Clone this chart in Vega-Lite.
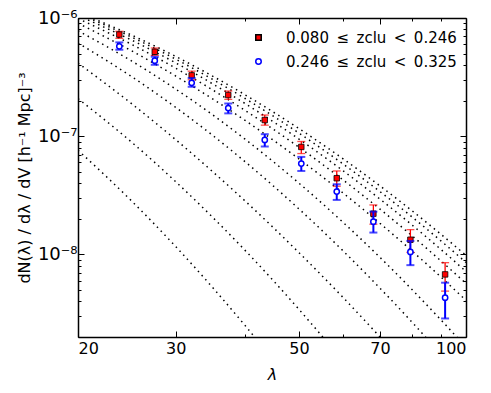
{
  "$schema": "https://vega.github.io/schema/vega-lite/v6.json",
  "width": 388,
  "height": 319,
  "autosize": {"type": "none"},
  "padding": {"left": 78, "top": 18, "right": 25, "bottom": 56},
  "background": "white",
  "config": {
    "view": {"stroke": null},
    "font": "DejaVu Sans",
    "axis": {
      "grid": false,
      "domainColor": "black",
      "domainWidth": 1.5,
      "tickColor": "black",
      "tickWidth": 1,
      "labelColor": "black",
      "titleColor": "black",
      "labelFont": "DejaVu Sans",
      "titleFont": "DejaVu Sans",
      "labelFontSize": 16,
      "titleFontSize": 16,
      "titleFontWeight": "normal"
    },
    "legend": {
      "orient": "none",
      "legendX": 173,
      "legendY": 12,
      "padding": 0,
      "labelFont": "DejaVu Sans",
      "labelFontSize": 15,
      "labelColor": "black",
      "labelLimit": 0,
      "labelOffset": 20,
      "rowPadding": 8,
      "symbolSize": 30,
      "symbolStrokeWidth": 1.5
    }
  },
  "datasets": {
    "pts": [
      {"set": "0.080\u2002≤\u2002zclu\u2002<\u20020.246", "lam": 23.74, "val": 7.25e-7, "lo": 6.73e-7, "hi": 7.71e-7},
      {"set": "0.080\u2002≤\u2002zclu\u2002<\u20020.246", "lam": 27.5, "val": 5.18e-7, "lo": 4.83e-7, "hi": 5.57e-7},
      {"set": "0.080\u2002≤\u2002zclu\u2002<\u20020.246", "lam": 32.05, "val": 3.27e-7, "lo": 3.00e-7, "hi": 3.55e-7},
      {"set": "0.080\u2002≤\u2002zclu\u2002<\u20020.246", "lam": 37.3, "val": 2.23e-7, "lo": 2.05e-7, "hi": 2.41e-7},
      {"set": "0.080\u2002≤\u2002zclu\u2002<\u20020.246", "lam": 43.4, "val": 1.37e-7, "lo": 1.24e-7, "hi": 1.51e-7},
      {"set": "0.080\u2002≤\u2002zclu\u2002<\u20020.246", "lam": 50.5, "val": 8.11e-8, "lo": 7.13e-8, "hi": 9.02e-8},
      {"set": "0.080\u2002≤\u2002zclu\u2002<\u20020.246", "lam": 58.5, "val": 4.41e-8, "lo": 3.77e-8, "hi": 5.08e-8},
      {"set": "0.080\u2002≤\u2002zclu\u2002<\u20020.246", "lam": 68.1, "val": 2.21e-8, "lo": 1.80e-8, "hi": 2.62e-8},
      {"set": "0.080\u2002≤\u2002zclu\u2002<\u20020.246", "lam": 79.4, "val": 1.33e-8, "lo": 1.04e-8, "hi": 1.62e-8},
      {"set": "0.080\u2002≤\u2002zclu\u2002<\u20020.246", "lam": 91.7, "val": 6.77e-9, "lo": 4.89e-9, "hi": 8.51e-9},
      {"set": "0.246\u2002≤\u2002zclu\u2002<\u20020.325", "lam": 23.74, "val": 5.76e-7, "lo": 5.39e-7, "hi": 6.22e-7},
      {"set": "0.246\u2002≤\u2002zclu\u2002<\u20020.325", "lam": 27.5, "val": 4.35e-7, "lo": 4.02e-7, "hi": 4.70e-7},
      {"set": "0.246\u2002≤\u2002zclu\u2002<\u20020.325", "lam": 32.05, "val": 2.83e-7, "lo": 2.62e-7, "hi": 3.10e-7},
      {"set": "0.246\u2002≤\u2002zclu\u2002<\u20020.325", "lam": 37.3, "val": 1.73e-7, "lo": 1.56e-7, "hi": 1.89e-7},
      {"set": "0.246\u2002≤\u2002zclu\u2002<\u20020.325", "lam": 43.4, "val": 9.30e-8, "lo": 8.18e-8, "hi": 1.04e-7},
      {"set": "0.246\u2002≤\u2002zclu\u2002<\u20020.325", "lam": 50.5, "val": 5.87e-8, "lo": 5.08e-8, "hi": 6.68e-8},
      {"set": "0.246\u2002≤\u2002zclu\u2002<\u20020.325", "lam": 58.5, "val": 3.40e-8, "lo": 2.89e-8, "hi": 3.92e-8},
      {"set": "0.246\u2002≤\u2002zclu\u2002<\u20020.325", "lam": 68.1, "val": 1.89e-8, "lo": 1.53e-8, "hi": 2.30e-8},
      {"set": "0.246\u2002≤\u2002zclu\u2002<\u20020.325", "lam": 79.4, "val": 1.05e-8, "lo": 8.11e-9, "hi": 1.30e-8},
      {"set": "0.246\u2002≤\u2002zclu\u2002<\u20020.325", "lam": 91.7, "val": 4.30e-9, "lo": 2.87e-9, "hi": 5.76e-9}
    ],
    "models": [
      {"model": "A", "lam": 20, "val": 7.61e-8}, {"model": "A", "lam": 25, "val": 2.82e-8}, {"model": "A", "lam": 30, "val": 1.164e-8}, {"model": "A", "lam": 35, "val": 5.21e-9}, {"model": "A", "lam": 40, "val": 2.50e-9}, {"model": "A", "lam": 45, "val": 1.266e-9},
      {"model": "B", "lam": 20, "val": 2.079e-7}, {"model": "B", "lam": 25, "val": 8.87e-8}, {"model": "B", "lam": 30, "val": 4.12e-8}, {"model": "B", "lam": 35, "val": 2.05e-8}, {"model": "B", "lam": 40, "val": 1.081e-8}, {"model": "B", "lam": 50, "val": 3.43e-9}, {"model": "B", "lam": 55, "val": 2.04e-9}, {"model": "B", "lam": 60, "val": 1.254e-9},
      {"model": "C", "lam": 20, "val": 4.157e-7}, {"model": "C", "lam": 25, "val": 1.878e-7}, {"model": "C", "lam": 30, "val": 9.34e-8}, {"model": "C", "lam": 35, "val": 4.99e-8}, {"model": "C", "lam": 40, "val": 2.83e-8}, {"model": "C", "lam": 50, "val": 1.036e-8}, {"model": "C", "lam": 60, "val": 4.34e-9}, {"model": "C", "lam": 70, "val": 2.00e-9}, {"model": "C", "lam": 75, "val": 1.404e-9},
      {"model": "D", "lam": 20, "val": 6.14e-7}, {"model": "D", "lam": 25, "val": 3.187e-7}, {"model": "D", "lam": 30, "val": 1.751e-7}, {"model": "D", "lam": 35, "val": 1.012e-7}, {"model": "D", "lam": 40, "val": 6.08e-8}, {"model": "D", "lam": 50, "val": 2.425e-8}, {"model": "D", "lam": 60, "val": 1.075e-8}, {"model": "D", "lam": 70, "val": 5.17e-9}, {"model": "D", "lam": 80, "val": 2.66e-9}, {"model": "D", "lam": 90, "val": 1.437e-9},
      {"model": "E", "lam": 20, "val": 7.80e-7}, {"model": "E", "lam": 25, "val": 4.32e-7}, {"model": "E", "lam": 30, "val": 2.502e-7}, {"model": "E", "lam": 35, "val": 1.51e-7}, {"model": "E", "lam": 40, "val": 9.43e-8}, {"model": "E", "lam": 50, "val": 4.01e-8}, {"model": "E", "lam": 60, "val": 1.875e-8}, {"model": "E", "lam": 70, "val": 9.43e-9}, {"model": "E", "lam": 80, "val": 5.02e-9}, {"model": "E", "lam": 90, "val": 2.81e-9}, {"model": "E", "lam": 100, "val": 1.645e-9},
      {"model": "F", "lam": 20, "val": 9.02e-7}, {"model": "F", "lam": 25, "val": 5.265e-7}, {"model": "F", "lam": 30, "val": 3.227e-7}, {"model": "F", "lam": 35, "val": 2.059e-7}, {"model": "F", "lam": 40, "val": 1.359e-7}, {"model": "F", "lam": 50, "val": 6.427e-8}, {"model": "F", "lam": 60, "val": 3.316e-8}, {"model": "F", "lam": 70, "val": 1.830e-8}, {"model": "F", "lam": 80, "val": 1.065e-8}, {"model": "F", "lam": 90, "val": 6.471e-9}, {"model": "F", "lam": 100, "val": 4.079e-9},
      {"model": "G", "lam": 20, "val": 9.90e-7}, {"model": "G", "lam": 25, "val": 5.974e-7}, {"model": "G", "lam": 30, "val": 3.760e-7}, {"model": "G", "lam": 35, "val": 2.454e-7}, {"model": "G", "lam": 40, "val": 1.652e-7}, {"model": "G", "lam": 50, "val": 8.074e-8}, {"model": "G", "lam": 60, "val": 4.279e-8}, {"model": "G", "lam": 70, "val": 2.415e-8}, {"model": "G", "lam": 80, "val": 1.433e-8}, {"model": "G", "lam": 90, "val": 8.860e-9}, {"model": "G", "lam": 100, "val": 5.675e-9},
      {"model": "H", "lam": 20, "val": 1.050e-6}, {"model": "H", "lam": 25, "val": 6.490e-7}, {"model": "H", "lam": 30, "val": 4.169e-7}, {"model": "H", "lam": 35, "val": 2.765e-7}, {"model": "H", "lam": 40, "val": 1.889e-7}, {"model": "H", "lam": 50, "val": 9.461e-8}, {"model": "H", "lam": 60, "val": 5.114e-8}, {"model": "H", "lam": 70, "val": 2.936e-8}, {"model": "H", "lam": 80, "val": 1.768e-8}, {"model": "H", "lam": 90, "val": 1.107e-8}, {"model": "H", "lam": 100, "val": 7.171e-9},
      {"model": "I", "lam": 20, "val": 1.092e-6}, {"model": "I", "lam": 25, "val": 6.880e-7}, {"model": "I", "lam": 30, "val": 4.486e-7}, {"model": "I", "lam": 35, "val": 3.016e-7}, {"model": "I", "lam": 40, "val": 2.084e-7}, {"model": "I", "lam": 50, "val": 1.063e-7}, {"model": "I", "lam": 60, "val": 5.839e-8}, {"model": "I", "lam": 70, "val": 3.396e-8}, {"model": "I", "lam": 80, "val": 2.068e-8}, {"model": "I", "lam": 90, "val": 1.308e-8}, {"model": "I", "lam": 100, "val": 8.552e-9},
      {"model": "J", "lam": 20, "val": 1.118e-6}, {"model": "J", "lam": 25, "val": 7.154e-7}, {"model": "J", "lam": 30, "val": 4.724e-7}, {"model": "J", "lam": 35, "val": 3.212e-7}, {"model": "J", "lam": 40, "val": 2.239e-7}, {"model": "J", "lam": 50, "val": 1.161e-7}, {"model": "J", "lam": 60, "val": 6.457e-8}, {"model": "J", "lam": 70, "val": 3.796e-8}, {"model": "J", "lam": 80, "val": 2.333e-8}, {"model": "J", "lam": 90, "val": 1.489e-8}, {"model": "J", "lam": 100, "val": 9.799e-9}
    ]
  },
  "layer": [
    {
      "data": {"name": "models"},
      "mark": {"type": "line", "clip": true, "color": "black", "strokeWidth": 1.5, "strokeDash": [1.5, 4], "interpolate": "monotone"},
      "encoding": {
        "x": {
          "field": "lam", "type": "quantitative",
          "scale": {"type": "log", "domain": [20, 100], "nice": false},
          "axis": {
            "orient": "bottom",
            "title": "λ",
            "titleFontStyle": "italic",
            "titlePadding": 10,
            "values": [20, 30, 40, 50, 60, 70, 80, 90, 100],
            "labelExpr": "indexof([20, 30, 50, 70, 100], datum.value) >= 0 ? format(datum.value, 'd') : ''",
            "labelPadding": 9,
            "tickSize": {"condition": {"test": "indexof([20, 30, 50, 70, 100], datum.value) >= 0", "value": -6}, "value": -3}
          }
        },
        "y": {
          "field": "val", "type": "quantitative",
          "scale": {"type": "log", "domain": [2e-9, 1e-6], "nice": false},
          "axis": {
            "orient": "left",
            "title": "dN(λ) / dλ / dV [h⁻¹ Mpc]⁻³",
            "titlePadding": 5,
            "values": [2e-9, 3e-9, 4e-9, 5e-9, 6e-9, 7e-9, 8e-9, 9e-9, 1e-8, 2e-8, 3e-8, 4e-8, 5e-8, 6e-8, 7e-8, 8e-8, 9e-8, 1e-7, 2e-7, 3e-7, 4e-7, 5e-7, 6e-7, 7e-7, 8e-7, 9e-7, 1e-6],
            "labelExpr": "datum.value === 1e-6 ? '10⁻⁶' : datum.value === 1e-7 ? '10⁻⁷' : datum.value === 1e-8 ? '10⁻⁸' : ''",
            "labelFontSize": 18,
            "labelPadding": 7,
            "tickSize": {"condition": {"test": "indexof([1e-6, 1e-7, 1e-8], datum.value) >= 0", "value": -6}, "value": -3}
          }
        },
        "detail": {"field": "model", "type": "nominal"}
      }
    },
    {
      "data": {"name": "pts"},
      "transform": [{"filter": "indexof(datum.set, '0.080') === 0"}],
      "mark": {"type": "errorbar", "color": "#ff0000", "thickness": 1.3, "size": 8, "ticks": true},
      "encoding": {
        "x": {"field": "lam", "type": "quantitative", "scale": {"type": "log", "domain": [20, 100], "nice": false}, "axis": null},
        "y": {"field": "lo", "type": "quantitative", "scale": {"type": "log", "domain": [2e-9, 1e-6], "nice": false}, "axis": null},
        "y2": {"field": "hi"}
      }
    },
    {
      "data": {"name": "pts"},
      "transform": [{"filter": "indexof(datum.set, '0.080') === 0"}],
      "mark": {"type": "point", "size": 30, "strokeWidth": 0.8, "opacity": 1},
      "encoding": {
        "x": {"field": "lam", "type": "quantitative", "scale": {"type": "log", "domain": [20, 100], "nice": false}, "axis": null},
        "y": {"field": "val", "type": "quantitative", "scale": {"type": "log", "domain": [2e-9, 1e-6], "nice": false}, "axis": null},
        "shape": {"field": "set", "type": "nominal", "scale": {"domain": ["0.080\u2002≤\u2002zclu\u2002<\u20020.246", "0.246\u2002≤\u2002zclu\u2002<\u20020.325"], "range": ["square", "circle"]}, "legend": {"title": null}},
        "fill": {"field": "set", "type": "nominal", "scale": {"domain": ["0.080\u2002≤\u2002zclu\u2002<\u20020.246", "0.246\u2002≤\u2002zclu\u2002<\u20020.325"], "range": ["#ff0000", "#ffffff"]}, "legend": {"title": null}},
        "stroke": {"field": "set", "type": "nominal", "scale": {"domain": ["0.080\u2002≤\u2002zclu\u2002<\u20020.246", "0.246\u2002≤\u2002zclu\u2002<\u20020.325"], "range": ["#000000", "#0000ff"]}, "legend": {"title": null}}
      }
    },
    {
      "data": {"name": "pts"},
      "transform": [{"filter": "indexof(datum.set, '0.246') === 0"}],
      "mark": {"type": "errorbar", "color": "#0000ff", "thickness": 2, "size": 8, "ticks": true},
      "encoding": {
        "x": {"field": "lam", "type": "quantitative", "scale": {"type": "log", "domain": [20, 100], "nice": false}, "axis": null},
        "y": {"field": "lo", "type": "quantitative", "scale": {"type": "log", "domain": [2e-9, 1e-6], "nice": false}, "axis": null},
        "y2": {"field": "hi"}
      }
    },
    {
      "data": {"name": "pts"},
      "transform": [{"filter": "indexof(datum.set, '0.246') === 0"}],
      "mark": {"type": "point", "size": 28, "strokeWidth": 1.5, "opacity": 1},
      "encoding": {
        "x": {"field": "lam", "type": "quantitative", "scale": {"type": "log", "domain": [20, 100], "nice": false}, "axis": null},
        "y": {"field": "val", "type": "quantitative", "scale": {"type": "log", "domain": [2e-9, 1e-6], "nice": false}, "axis": null},
        "shape": {"field": "set", "type": "nominal", "legend": {"title": null}},
        "fill": {"field": "set", "type": "nominal", "legend": {"title": null}},
        "stroke": {"field": "set", "type": "nominal", "legend": {"title": null}}
      }
    },
    {
      "data": {"name": "pts"},
      "mark": {"type": "point", "opacity": 0},
      "encoding": {
        "x": {
          "field": "lam", "type": "quantitative",
          "scale": {"type": "log", "domain": [20, 100], "nice": false},
          "axis": {
            "orient": "top", "title": null, "labels": false,
            "values": [20, 30, 40, 50, 60, 70, 80, 90, 100],
            "tickSize": {"condition": {"test": "indexof([20, 30, 50, 70, 100], datum.value) >= 0", "value": -6}, "value": -3}
          }
        },
        "y": {
          "field": "val", "type": "quantitative",
          "scale": {"type": "log", "domain": [2e-9, 1e-6], "nice": false},
          "axis": {
            "orient": "right", "title": null, "labels": false,
            "values": [2e-9, 3e-9, 4e-9, 5e-9, 6e-9, 7e-9, 8e-9, 9e-9, 1e-8, 2e-8, 3e-8, 4e-8, 5e-8, 6e-8, 7e-8, 8e-8, 9e-8, 1e-7, 2e-7, 3e-7, 4e-7, 5e-7, 6e-7, 7e-7, 8e-7, 9e-7, 1e-6],
            "tickSize": {"condition": {"test": "indexof([1e-6, 1e-7, 1e-8], datum.value) >= 0", "value": -6}, "value": -3}
          }
        }
      }
    }
  ],
  "resolve": {"axis": {"x": "independent", "y": "independent"}}
}
